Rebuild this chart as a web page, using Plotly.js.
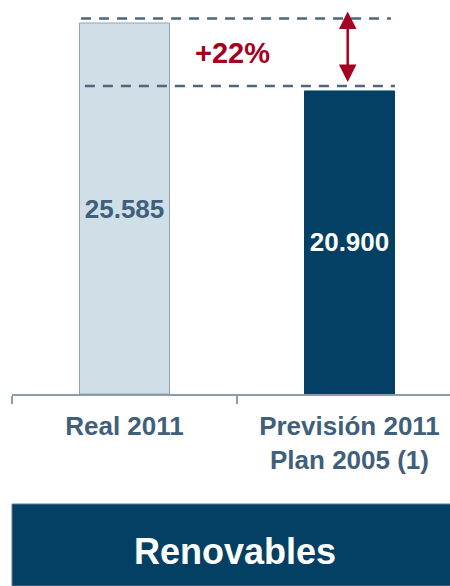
<!DOCTYPE html>
<html>
<head>
<meta charset="utf-8">
<script src="https://cdn.plot.ly/plotly-3.0.1.min.js"></script>
<style>html,body{margin:0;padding:0;background:#fff;}#chart{width:450px;height:586px;}</style>
</head>
<body>
<div id="chart"></div>
<script>
// Data
const categories = ["Real 2011", "Previsión 2011<br>Plan 2005 (1)"];
const values = [25585, 20900];
const barColors = ["#d0dee7", "#034063"];
const lineColors = ["#8ea4b6", "#034063"];
const labelColors = ["#3f5f7a", "#ffffff"];
const bannerText = "Renovables";

const pct = Math.round((values[0] / values[1] - 1) * 100);
const pctText = "+" + pct + "%";

const trace = {
  type: "bar",
  x: categories,
  y: values,
  width: 0.4,
  marker: { color: barColors, line: { color: lineColors, width: 1 } },
  texttemplate: "%{y:,}",
  textposition: "inside",
  insidetextanchor: "middle",
  textangle: 0,
  textfont: { family: "Liberation Sans, Arial, sans-serif", size: 26, color: labelColors, weight: "bold" },
  hoverinfo: "none",
  cliponaxis: false
};

const dashColor = "#4a6880";
const layout = {
  width: 450, height: 586,
  margin: { l: 12, r: 0, t: 0, b: 192 },
  paper_bgcolor: "#fff", plot_bgcolor: "#fff",
  separators: ",.",
  showlegend: false,
  font: { family: "Liberation Sans, Arial, sans-serif" },
  xaxis: {
    type: "category",
    range: [-0.5, 1.4467],
    tickson: "boundaries",
    ticks: "outside", ticklen: 8, tickwidth: 1.5, tickcolor: "#8c9cab",
    showline: true, linecolor: "#8c9cab", linewidth: 1.5,
    showgrid: false, zeroline: false,
    tickfont: { family: "Liberation Sans, Arial, sans-serif", size: 26, color: "#3f5f7a", weight: "bold" },
    ticklabelstandoff: 8,
    fixedrange: true
  },
  yaxis: {
    range: [0, 27172],
    visible: false, showgrid: false, zeroline: false, fixedrange: true
  },
  shapes: [
    { type: "line", xref: "x", yref: "y", x0: -0.193, x1: 1.184,
      ysizemode: "pixel", yanchor: values[0], y0: 4.5, y1: 4.5,
      line: { color: dashColor, width: 2.5, dash: "10px,8px" } },
    { type: "line", xref: "x", yref: "y", x0: -0.176, x1: 1.202,
      ysizemode: "pixel", yanchor: values[1], y0: 5, y1: 5,
      line: { color: dashColor, width: 2.5, dash: "10px,8px" } },
    { type: "rect", xref: "paper", yref: "paper", x0: 0, x1: 1.05,
      ysizemode: "pixel", yanchor: 0, y0: -110, y1: -192,
      fillcolor: "#034063", line: { color: "#5f7d93", width: 1 }, layer: "above" }
  ],
  annotations: [
    { xref: "x", yref: "y", x: 0.992, y: 26380, axref: "x", ayref: "y", ax: 0.992, ay: 21420,
      showarrow: true, arrowhead: 2, startarrowhead: 2, arrowside: "end+start",
      arrowsize: 1.4, startarrowsize: 1.4, arrowwidth: 2.5, arrowcolor: "#a50021", text: "" },
    { xref: "x", yref: "y", x: 0.482, y: 23517, text: pctText, showarrow: false,
      font: { family: "Liberation Sans, Arial, sans-serif", size: 29, color: "#a50021", weight: "bold" } },
    { xref: "paper", yref: "paper", x: 0.51, y: 0, yshift: -157, text: bannerText, showarrow: false,
      xanchor: "center", yanchor: "middle",
      font: { family: "Liberation Sans, Arial, sans-serif", size: 36, color: "#ffffff", weight: "bold" } }
  ]
};

Plotly.newPlot("chart", [trace], layout, { staticPlot: true, displayModeBar: false });
</script>
</body>
</html>
